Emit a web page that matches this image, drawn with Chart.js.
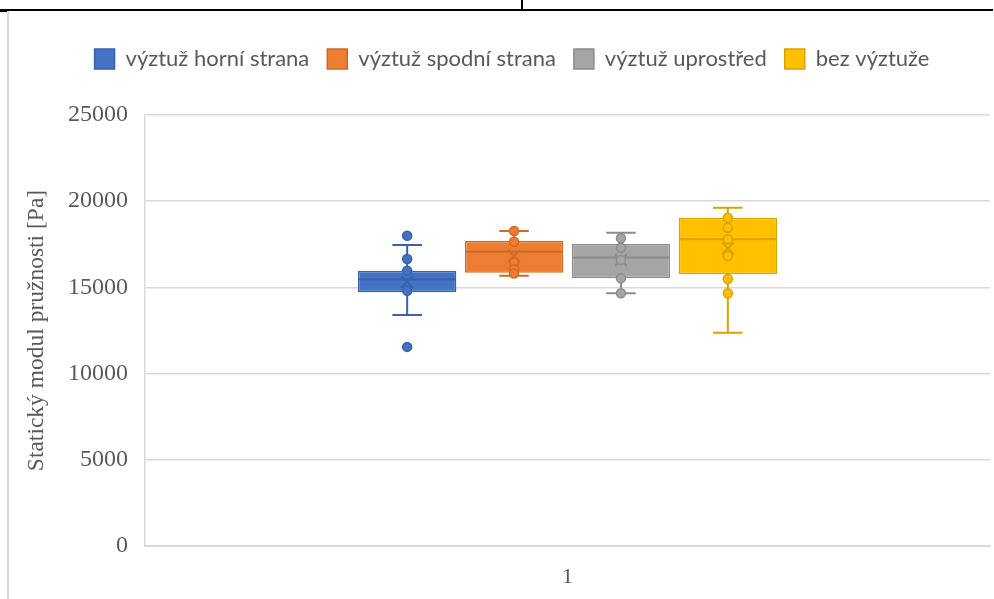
<!DOCTYPE html>
<html>
<head>
<meta charset="utf-8">
<title>Statický modul pružnosti</title>
<script src="https://cdn.jsdelivr.net/npm/chart.js@4/dist/chart.umd.min.js"></script>
<style>
  html, body { margin: 0; padding: 0; background: #fff; }
  #wrap { position: relative; width: 994px; height: 599px; overflow: hidden; }
  #c { position: absolute; left: 0; top: 0; }
  .rule { position: absolute; background: #000; }
</style>
</head>
<body>
<div id="wrap">
  <canvas id="c" width="994" height="599"></canvas>
  <div class="rule" style="left:0;top:9px;width:993px;height:2px"></div>
  <div class="rule" style="left:521px;top:0;width:2px;height:10px"></div>
  <div class="rule" style="left:0;top:9px;width:8px;height:3px"></div>
  <div style="position:absolute;left:7px;top:11px;width:2px;height:588px;background:#d9d9d9"></div>
</div>
<script>
// Category and series
const categories = ['1'];
const seriesNames = ['výztuž horní strana', 'výztuž spodní strana', 'výztuž uprostřed', 'bez výztuže'];

// Box-plot statistics per series [Pa]
const whiskerLow  = [13400, 15680, 14660, 12370];
const quartile1   = [14720, 15850, 15530, 15760];
const medians     = [15470, 17070, 16740, 17790];
const quartile3   = [15970, 17710, 17520, 19040];
const whiskerHigh = [17460, 18270, 18170, 19620];
const means       = [15330, 16820, 16590, 17270];

// Individual measured points per series [Pa]
const pointsHorni   = [18000, 16650, 15970, 14810, 11550];
const pointsSpodni  = [18270, 17650, 16450, 16050, 15800];
const pointsStred   = [17850, 17300, 16590, 15530, 14660];
const pointsBez     = [19040, 18460, 17790, 16820, 15490, 14660];
const seriesPoints  = [pointsHorni, pointsSpodni, pointsStred, pointsBez];

// Axis ticks
const yMin = 0, yMax = 25000, yStep = 5000;

const fillColors = ['#4472C4', '#ED7D31', '#A5A5A5', '#FFC000'];
const lineColors = ['#3862AE', '#CF6A26', '#8C8C8C', '#D9A300'];

const datasets = seriesNames.map((name, i) => ({
  label: name,
  data: [[quartile1[i], quartile3[i]]],
  backgroundColor: fillColors[i],
  borderColor: lineColors[i],
  borderWidth: 1.5,
  borderSkipped: false,
  categoryPercentage: 0.506,
  barPercentage: 0.92
}));

// Whiskers, median, mean marker and points, placed with the chart's own scales
const boxPlotDecor = {
  id: 'boxPlotDecor',
  afterDatasetsDraw(chart) {
    const ctx = chart.ctx;
    const ys = chart.scales.y;
    chart.data.datasets.forEach((ds, i) => {
      const meta = chart.getDatasetMeta(i);
      if (meta.hidden) return;
      const bar = meta.data[0];
      const x = bar.x, w = bar.width;
      const left = x - w / 2, right = x + w / 2;
      const capHalf = w * 0.15;
      const col = lineColors[i];
      ctx.save();
      ctx.strokeStyle = col;
      ctx.lineWidth = 2;
      // whiskers
      const yHi = ys.getPixelForValue(whiskerHigh[i]);
      const yLo = ys.getPixelForValue(whiskerLow[i]);
      const yQ3 = ys.getPixelForValue(quartile3[i]);
      const yQ1 = ys.getPixelForValue(quartile1[i]);
      ctx.beginPath();
      ctx.moveTo(x, yQ3); ctx.lineTo(x, yHi);
      ctx.moveTo(x - capHalf, yHi); ctx.lineTo(x + capHalf, yHi);
      ctx.moveTo(x, yQ1); ctx.lineTo(x, yLo);
      ctx.moveTo(x - capHalf, yLo); ctx.lineTo(x + capHalf, yLo);
      ctx.stroke();
      // median
      const yMed = ys.getPixelForValue(medians[i]);
      ctx.beginPath();
      ctx.moveTo(left + 1, yMed); ctx.lineTo(right - 1, yMed);
      ctx.stroke();
      // mean marker
      const yMean = ys.getPixelForValue(means[i]);
      const m = 6;
      ctx.beginPath();
      ctx.moveTo(x - m, yMean - m); ctx.lineTo(x + m, yMean + m);
      ctx.moveTo(x + m, yMean - m); ctx.lineTo(x - m, yMean + m);
      ctx.stroke();
      // points
      ctx.lineWidth = 1.5;
      ctx.fillStyle = fillColors[i];
      seriesPoints[i].forEach(v => {
        const py = ys.getPixelForValue(v);
        ctx.beginPath();
        ctx.arc(x, py, 4.5, 0, Math.PI * 2);
        ctx.fill();
        ctx.stroke();
      });
      ctx.restore();
    });
  }
};

// Legend placement: extra room below it and a small shift to the right
const legendSpacing = {
  id: 'legendSpacing',
  beforeInit(chart) {
    const origFit = chart.legend.fit;
    chart.legend.fit = function () {
      origFit.call(this);
      this.height = 85;
    };
  },
  afterLayout(chart) {
    const lg = chart.legend;
    lg.left += 13;
    lg.right += 13;
  }
};

new Chart(document.getElementById('c'), {
  type: 'bar',
  data: { labels: categories, datasets },
  plugins: [boxPlotDecor, legendSpacing],
  options: {
    responsive: false,
    animation: false,
    layout: { padding: { left: 8, right: 4, top: 30, bottom: 0 } },
    plugins: {
      tooltip: { enabled: false },
      legend: {
        position: 'top',
        labels: {
          boxWidth: 20,
          boxHeight: 20,
          padding: 18,
          color: '#595959',
          font: { family: 'Lato, "Open Sans", sans-serif', size: 22 }
        }
      }
    },
    scales: {
      x: {
        grid: { display: false, drawTicks: false },
        border: { display: true, color: '#D9D9D9', width: 2 },
        ticks: {
          color: '#595959',
          padding: 18,
          font: { family: '"Liberation Serif", "Times New Roman", serif', size: 22 }
        },
        afterFit(scale) { scale.height = 53; }
      },
      y: {
        min: yMin,
        max: yMax,
        grid: { color: '#D9D9D9', lineWidth: 1.5, drawTicks: false },
        border: { display: true, color: '#D9D9D9', width: 1.5 },
        ticks: {
          stepSize: yStep,
          color: '#595959',
          padding: 17,
          font: { family: '"Liberation Serif", "Times New Roman", serif', size: 24 },
          callback: (v) => String(v)
        },
        title: {
          display: true,
          text: 'Statický modul pružnosti [Pa]',
          color: '#595959',
          padding: { top: 15, bottom: 0 },
          font: { family: '"Liberation Serif", "Times New Roman", serif', size: 23.5, weight: 'normal' }
        },
        afterFit(scale) { scale.width = 137; }
      }
    }
  }
});
</script>
</body>
</html>
